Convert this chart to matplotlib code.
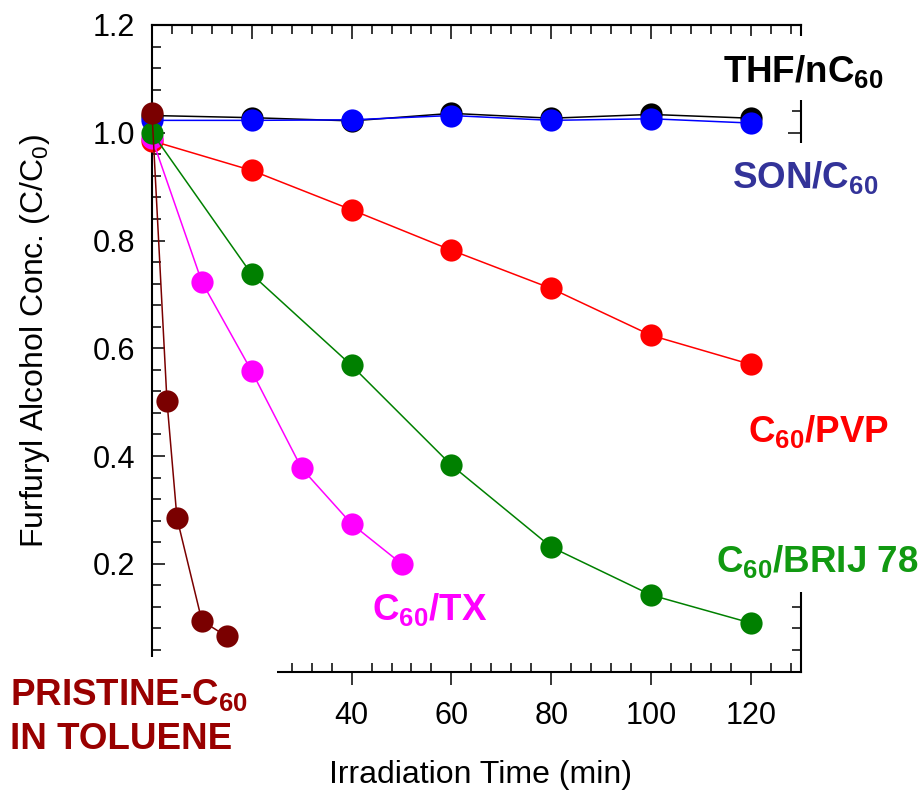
import matplotlib
matplotlib.use("Agg")
import matplotlib.pyplot as plt
from matplotlib.patches import Rectangle
from matplotlib.ticker import MultipleLocator

plt.rcParams['font.family'] = ['Liberation Sans', 'DejaVu Sans']
plt.rcParams['mathtext.fontset'] = 'custom'
plt.rcParams['mathtext.rm'] = 'Liberation Sans'
plt.rcParams['mathtext.it'] = 'Liberation Sans:italic'
plt.rcParams['mathtext.bf'] = 'Liberation Sans:bold'

# ---- data ----
t_main = [0, 20, 40, 60, 80, 100, 120]
thf_nc60 = [1.032, 1.028, 1.022, 1.036, 1.027, 1.034, 1.027]
son_c60 = [1.023, 1.023, 1.024, 1.032, 1.023, 1.026, 1.018]
c60_pvp = [0.985, 0.930, 0.857, 0.782, 0.711, 0.624, 0.570]
c60_brij = [1.000, 0.737, 0.568, 0.383, 0.231, 0.142, 0.090]
t_tx = [0, 10, 20, 30, 40, 50]
c60_tx = [0.990, 0.723, 0.557, 0.377, 0.274, 0.200]
t_pristine = [0, 3, 5, 10, 15]
pristine = [1.036, 0.502, 0.285, 0.094, 0.065]

x_ticks = [0, 20, 40, 60, 80, 100, 120]
x_ticklabels = ['', '', '40', '60', '80', '100', '120']   # 0 and 20 hidden by label box
y_ticks = [0.0, 0.2, 0.4, 0.6, 0.8, 1.0, 1.2]
y_ticklabels = ['', '0.2', '0.4', '0.6', '0.8', '1.0', '1.2']

W, H = 921, 791
fig = plt.figure(figsize=(W / 100, H / 100), dpi=100)

def fx(px):
    return px / W

def fy(py):
    return 1 - py / H

ax = fig.add_axes([fx(152), fy(671.5), (800.7 - 152) / W, (671.5 - 25) / H])

ms = 16
lw = 1.1
series = [
    (t_main, c60_pvp, '#ff0000'),
    (t_tx, c60_tx, '#ff00ff'),
    (t_main, thf_nc60, '#000000'),
    (t_main, son_c60, '#0000ff'),
    (t_main, c60_brij, '#008000'),
    (t_pristine, pristine, '#7a0000'),
]
for i, (x, y, c) in enumerate(series):
    ax.plot(x, y, '-', color=c, lw=lw, marker='o', ms=ms, mec=c, mew=0,
            zorder=3 + i * 0.1, clip_on=False)

ax.set_xlim(0, 130)
ax.set_ylim(0, 1.2)
ax.set_xticks(x_ticks)
ax.set_xticklabels(x_ticklabels)
ax.set_yticks(y_ticks)
ax.set_yticklabels(y_ticklabels)
ax.xaxis.set_minor_locator(MultipleLocator(4))
ax.yaxis.set_minor_locator(MultipleLocator(0.04))

for s in ax.spines.values():
    s.set_linewidth(1.5)

ax.tick_params(axis='x', which='major', direction='out', length=9.5, width=1.1,
               labelsize=22, pad=12, top=False, bottom=True)
ax.tick_params(axis='x', which='minor', direction='in', length=6.2, width=1.1,
               top=False, bottom=True)
ax.tick_params(axis='y', which='major', direction='in', length=9.5, width=1.1,
               labelsize=22, pad=12, left=True, right=True)
ax.tick_params(axis='y', which='minor', direction='in', length=6.2, width=1.1,
               left=True, right=True)

sec = ax.secondary_xaxis('top')
sec.set_xticks(x_ticks)
sec.xaxis.set_minor_locator(MultipleLocator(4))
sec.tick_params(axis='x', which='major', direction='in', length=10, width=1.1, labeltop=False)
sec.tick_params(axis='x', which='minor', direction='in', length=6.2, width=1.1)
sec.spines['top'].set_linewidth(1.5)

# white boxes behind labels (they cover parts of the frame)
for (x0, y0, x1, y1) in [(0, 657, 277, 791), (781, 143, 921, 592), (716, 36, 892, 100)]:
    fig.add_artist(Rectangle((fx(x0), fy(y1)), (x1 - x0) / W, (y1 - y0) / H,
                             transform=fig.transFigure, facecolor='white',
                             edgecolor='none', zorder=5))

# axis labels
fig.text(fx(35), fy(341), 'Furfuryl Alcohol Conc. (C/C$_0$)', rotation=90,
         ha='center', va='center', fontsize=23, zorder=6)
fig.text(fx(480), fy(783), 'Irradiation Time (min)', ha='center', va='baseline',
         fontsize=23, zorder=6)

lab_fs = 26.5
labels = [
    (723, 82, r'THF/nC$_{\mathbf{60}}$', '#000000'),
    (732, 188, r'SON/C$_{\mathbf{60}}$', '#333399'),
    (748, 442, r'C$_{\mathbf{60}}$/PVP', '#ff0000'),
    (716, 572, r'C$_{\mathbf{60}}$/BRIJ 78', '#119911'),
    (372, 620, r'C$_{\mathbf{60}}$/TX', '#ff00ff'),
    (10, 705, r'PRISTINE-C$_{\mathbf{60}}$', '#990000'),
    (10, 749, 'IN TOLUENE', '#990000'),
]
for (px, py, s, c) in labels:
    fig.text(fx(px), fy(py), s, color=c, fontsize=lab_fs, fontweight='bold',
             ha='left', va='baseline', zorder=6)

fig.savefig('out.png', dpi=100)
